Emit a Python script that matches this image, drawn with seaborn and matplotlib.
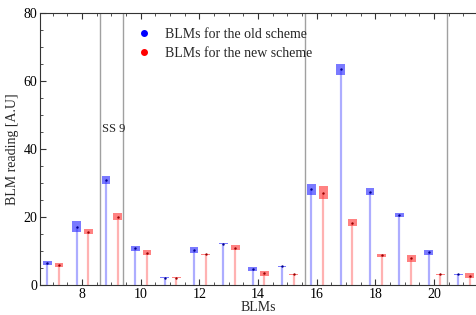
import numpy as np
import pandas as pd
import matplotlib
matplotlib.use("Agg")
import matplotlib.pyplot as plt
from matplotlib.ticker import MultipleLocator
from matplotlib.lines import Line2D
import seaborn as sns

# BLM index, readings and error half-heights
blms = [7, 8, 9, 10, 11, 12, 13, 14, 15, 16, 17, 18, 19, 20, 21]
old_values = [6.4, 17.2, 30.9, 10.8, 2.2, 10.3, 12.2, 4.7, 5.5, 28.2, 63.4, 27.5, 20.6, 9.6, 3.1]
old_errors = [0.6, 1.6, 1.2, 0.8, 0.15, 0.75, 0.15, 0.65, 0.15, 1.6, 1.6, 0.95, 0.6, 0.7, 0.15]
new_values = [5.9, 15.7, 20.1, 9.5, 2.2, 9.0, 11.0, 3.4, 3.2, 27.2, 18.3, 8.7, 7.8, 3.1, 2.7]
new_errors = [0.7, 0.8, 1.0, 0.75, 0.15, 0.15, 0.7, 0.7, 0.15, 1.9, 1.0, 0.55, 0.9, 0.15, 0.7]
separators = [8.6, 9.4, 15.6, 20.45]

old = pd.DataFrame({"BLM": np.array(blms) - 0.18, "value": old_values, "err": old_errors, "scheme": "old"})
new = pd.DataFrame({"BLM": np.array(blms) + 0.22, "value": new_values, "err": new_errors, "scheme": "new"})
data = pd.concat([old, new], ignore_index=True)

sns.set_style("white")
plt.rcParams["font.family"] = ["Liberation Serif", "DejaVu Serif"]

fig, ax = plt.subplots(figsize=(4.76, 3.15), dpi=100)
fig.subplots_adjust(left=40 / 476, right=1.0, bottom=30 / 315, top=302 / 315)

for x in separators:
    ax.axvline(x, color="#a0a0a0", lw=1.0, zorder=1)

colors = {"old": (0.2, 0.2, 1.0), "new": (1.0, 0.25, 0.25)}
dark = {"old": (0.0, 0.0, 0.55), "new": (0.6, 0.0, 0.0)}
for scheme, grp in data.groupby("scheme"):
    c = colors[scheme]
    ax.vlines(grp["BLM"], 0, grp["value"], color=c, alpha=0.4, lw=1.6, zorder=2)
    ax.bar(grp["BLM"], 2 * grp["err"], bottom=grp["value"] - grp["err"], width=0.3,
           color=c, alpha=0.65, linewidth=0, zorder=3)
    sns.scatterplot(data=grp, x="BLM", y="value", color=dark[scheme], s=3,
                    linewidth=0, ax=ax, zorder=4, legend=False)

ax.text(8.68, 46, "SS 9", fontsize=9, va="center")

handles = [
    Line2D([], [], marker="o", ls="", color="blue", markersize=4, label="BLMs for the old scheme"),
    Line2D([], [], marker="o", ls="", color="red", markersize=4, label="BLMs for the new scheme"),
]
ax.legend(handles=handles, loc="upper left", bbox_to_anchor=(0.195, 0.965), frameon=False,
          fontsize=10, handletextpad=0.5, labelspacing=0.45, borderaxespad=0)

ax.set_xlim(6.57, 21.43)
ax.set_ylim(0, 80)
ax.xaxis.set_major_locator(MultipleLocator(2))
ax.xaxis.set_minor_locator(MultipleLocator(0.5))
ax.yaxis.set_major_locator(MultipleLocator(20))
ax.yaxis.set_minor_locator(MultipleLocator(5))
ax.tick_params(which="both", direction="in", top=True, bottom=True, left=True, right=False,
               colors="#333333", labelcolor="black", labelsize=10, pad=2)
ax.tick_params(which="major", length=4)
ax.tick_params(which="minor", length=2)
ax.spines["right"].set_visible(False)
for s in ["left", "bottom", "top"]:
    ax.spines[s].set_color("#333333")
    ax.spines[s].set_linewidth(0.8)

ax.set_xlabel("BLMs", fontsize=10, labelpad=0)
ax.set_ylabel("BLM reading [A.U]", fontsize=10, labelpad=3)

fig.savefig("out.png", dpi=100)
